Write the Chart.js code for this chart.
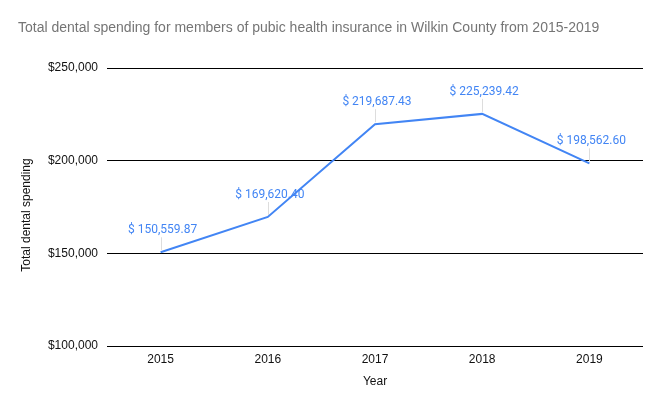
<!DOCTYPE html>
<html>
<head>
<meta charset="utf-8">
<script src="https://cdn.jsdelivr.net/npm/chart.js@4/dist/chart.umd.min.js"></script>
<style>
  html, body { margin: 0; padding: 0; background: #fff; }
  #wrap { width: 664px; height: 399px; position: relative; }
</style>
</head>
<body>
<div id="wrap"><canvas id="myChart"></canvas></div>
<script>
// data
var years = ["2015", "2016", "2017", "2018", "2019"];
var spending = [150559.87, 169620.40, 219687.43, 225239.42, 198562.60];
var yTicks = [100000, 150000, 200000, 250000];

var chartTitle = "Total dental spending for members of pubic health insurance in Wilkin County from 2015-2019";
var yTitle = "Total dental spending";
var blue = '#4285f4';
var axisFont = '"Liberation Sans", Arial, sans-serif';

function money(v) {
  return '$' + v.toLocaleString('en-US');
}

// title in the top left corner + y axis title (sits a bit below centre like the sheet)
var titlePlugin = {
  id: 'topTitle',
  afterDraw: function(chart) {
    var ctx = chart.ctx;
    ctx.save();
    ctx.font = '14px ' + axisFont;
    ctx.fillStyle = '#757575';
    ctx.textAlign = 'left';
    ctx.textBaseline = 'middle';
    ctx.fillText(chartTitle, 18, 28);

    ctx.translate(27, 215);
    ctx.rotate(-Math.PI / 2);
    ctx.font = '12px ' + axisFont;
    ctx.fillStyle = '#111';
    ctx.textAlign = 'center';
    ctx.fillText(yTitle, 0, 0);
    ctx.restore();
  }
};

// value labels above the points with a thin leader line
var labelPlugin = {
  id: 'valueLabels',
  afterDatasetsDraw: function(chart) {
    var ctx = chart.ctx;
    var meta = chart.getDatasetMeta(0);
    ctx.save();
    meta.data.forEach(function(pt, i) {
      var v = chart.data.datasets[0].data[i];
      ctx.strokeStyle = '#dddddd';
      ctx.lineWidth = 1;
      ctx.beginPath();
      ctx.moveTo(Math.round(pt.x) + 0.5, pt.y - 2);
      ctx.lineTo(Math.round(pt.x) + 0.5, pt.y - 15);
      ctx.stroke();
      ctx.font = '12px Roboto, sans-serif';
      ctx.fillStyle = blue;
      ctx.textAlign = 'center';
      ctx.textBaseline = 'middle';
      var txt = '$ ' + v.toLocaleString('en-US', {minimumFractionDigits: 2, maximumFractionDigits: 2});
      ctx.fillText(txt, pt.x + 2, pt.y - 22);
    });
    ctx.restore();
  }
};

var ctx = document.getElementById('myChart').getContext('2d');
var chart = new Chart(ctx, {
  type: 'line',
  data: {
    labels: years,
    datasets: [{
      data: spending,
      borderColor: blue,
      borderWidth: 2,
      pointRadius: 0,
      tension: 0,
      fill: false
    }]
  },
  options: {
    responsive: true,
    maintainAspectRatio: false,
    animation: false,
    layout: { padding: { left: 0, right: 21, top: 68, bottom: 0 } },
    plugins: {
      legend: { display: false },
      tooltip: { enabled: false },
      title: { display: false }
    },
    scales: {
      x: {
        offset: true,
        grid: { display: false, drawTicks: false },
        border: { display: false },
        ticks: {
          color: '#111',
          padding: 6,
          font: { family: axisFont, size: 12 }
        },
        title: {
          display: true,
          text: 'Year',
          color: '#111',
          font: { family: axisFont, size: 12 },
          padding: { top: 4, bottom: 10 }
        },
        afterFit: function(scale) { scale.height = 53; }
      },
      y: {
        min: 100000,
        max: 250000,
        grid: { color: '#000', drawTicks: false, lineWidth: 1 },
        border: { display: false },
        afterBuildTicks: function(scale) {
          scale.ticks = yTicks.map(function(v) { return { value: v }; });
        },
        ticks: {
          color: '#111',
          padding: 9,
          font: { family: axisFont, size: 12 },
          callback: function(v) { return money(v); }
        },
        afterFit: function(scale) { scale.width = 107; }
      }
    }
  },
  plugins: [titlePlugin, labelPlugin]
});
</script>
</body>
</html>
